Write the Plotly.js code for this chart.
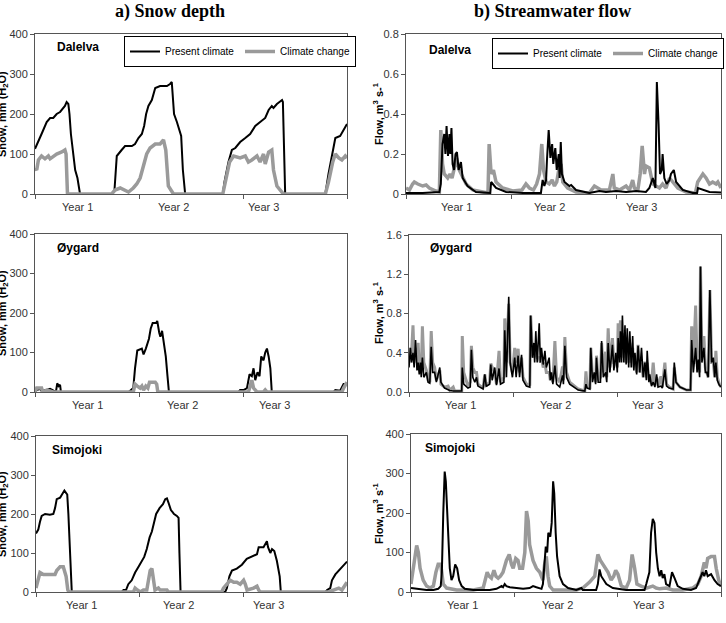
<!DOCTYPE html>
<html>
<head>
<meta charset="utf-8">
<script src="https://cdn.plot.ly/plotly-3.0.1.min.js"></script>
<style>
  html, body { margin: 0; padding: 0; background: #fff; }
  #chart { width: 726px; height: 623px; }
</style>
</head>
<body>
<div id="chart"></div>
<script>
// ---- Time axis: day of the 3-year simulation record ----
const yearTicks = [0, 365, 730, 1095];
const yearNames = ['Year 1', 'Year 2', 'Year 3'];

// ---- Dalelva: snow depth, mm (H2O) ----
const dalelvaSnowPresentDay = [0,12,23,41,53,64,76,88,100,105,111,117,121,126,141,149,158,269,279,287,304,316,340,351,363,375,383,390,398,410,422,439,463,474,480,484,488,498,509,513,519,527,659,665,679,691,703,720,738,755,773,790,808,820,831,837,849,867,870,878,1019,1030,1042,1054,1071,1083,1095];
const dalelvaSnowPresent = [113,135,150,180,190,190,200,205,215,220,230,225,200,150,60,40,0,0,10,95,110,120,120,125,140,150,170,200,220,235,265,270,270,275,280,240,200,180,150,145,60,0,0,30,80,110,115,130,140,150,170,180,190,210,220,215,225,235,230,0,0,50,100,140,145,160,175];
const dalelvaSnowChangeDay = [0,6,12,23,35,47,53,64,76,94,105,109,114,269,281,299,316,328,345,357,369,381,392,404,422,439,451,459,465,468,477,486,659,667,683,697,720,738,749,761,779,790,802,808,820,831,837,849,861,872,1019,1030,1045,1054,1066,1077,1089,1095];
const dalelvaSnowChange = [65,60,85,95,88,95,88,95,100,105,110,100,0,0,10,15,10,5,15,25,40,70,100,115,125,125,135,110,40,20,10,0,0,30,80,95,90,95,80,85,95,80,100,75,105,110,60,20,10,0,0,30,80,100,90,85,95,90];

// ---- Dalelva: streamwater flow, m3/s ----
const dalelvaFlowPresentDay = [0,58,116,121,127,133,137,141,146,151,154,158,162,167,172,177,183,191,197,214,243,278,293,296,313,348,406,469,475,481,487,490,496,502,508,512,519,524,531,534,538,542,551,568,574,591,637,672,695,730,765,800,834,846,858,867,872,878,883,889,892,898,906,916,921,931,939,962,997,1012,1015,1055,1095];
const dalelvaFlowPresent = [0.005,0.005,0.01,0.05,0.25,0.30,0.20,0.34,0.19,0.30,0.20,0.33,0.15,0.12,0.20,0.21,0.12,0.16,0.08,0.04,0.01,0.005,0.005,0.06,0.03,0.01,0.005,0.005,0.07,0.04,0.07,0.17,0.32,0.18,0.25,0.15,0.23,0.12,0.20,0.08,0.26,0.10,0.06,0.04,0.045,0.02,0.005,0.015,0.01,0.015,0.01,0.015,0.01,0.03,0.08,0.03,0.56,0.35,0.10,0.12,0.20,0.08,0.05,0.07,0.10,0.12,0.06,0.02,0.005,0.005,0.03,0.01,0.008];
const dalelvaFlowChangeDay = [0,12,23,29,41,58,70,81,104,116,121,127,133,145,153,160,168,176,185,192,209,232,267,285,289,296,304,313,336,371,403,417,429,443,454,464,472,478,487,498,508,516,524,531,539,545,562,591,637,655,678,707,719,724,742,765,777,788,794,806,814,821,829,834,846,858,869,881,892,904,916,927,945,974,1006,1014,1022,1032,1043,1055,1066,1078,1084,1095];
const dalelvaFlowChange = [0.03,0.02,0.05,0.06,0.05,0.04,0.045,0.03,0.015,0.01,0.32,0.15,0.10,0.08,0.10,0.08,0.13,0.18,0.12,0.10,0.05,0.02,0.01,0.005,0.25,0.10,0.12,0.06,0.03,0.015,0.02,0.05,0.03,0.02,0.05,0.10,0.25,0.12,0.06,0.05,0.07,0.04,0.06,0.12,0.15,0.06,0.03,0.01,0.005,0.04,0.02,0.02,0.10,0.03,0.02,0.04,0.02,0.07,0.03,0.02,0.10,0.24,0.10,0.14,0.13,0.05,0.04,0.03,0.05,0.03,0.08,0.06,0.03,0.01,0.005,0.06,0.08,0.10,0.08,0.05,0.06,0.05,0.06,0.03];

// ---- Øygard: snow depth ----
const oygardSnowPresentDay = [0,6,18,23,41,53,62,67,74,78,83,88,91,328,334,345,351,359,375,381,389,396,400,406,413,425,429,436,440,446,452,459,465,470,714,720,732,744,753,761,767,773,781,788,794,802,808,814,820,826,831,1048,1054,1071,1083,1095];
const oygardSnowPresent = [0,5,8,3,5,8,5,2,3,22,15,18,0,0,3,10,60,105,110,95,110,130,135,160,175,175,180,150,140,155,130,90,40,0,0,5,5,10,45,40,60,30,50,40,90,80,100,110,90,60,0,0,5,3,20,20];
const oygardSnowChangeDay = [0,6,23,27,41,53,64,345,351,359,369,375,381,389,396,402,422,427,431,749,753,761,767,779,802,808,814,1077,1083,1089,1095];
const oygardSnowChange = [0,10,10,0,5,3,0,0,20,15,10,15,5,15,10,25,25,20,0,0,10,30,10,0,0,5,0,0,10,20,25];

// ---- Øygard: streamwater flow (both runs on the same days) ----
const oygardFlowDay = [0,5,9,14,18,23,28,32,36,40,43,47,52,61,67,73,78,83,90,96,108,112,125,137,143,155,160,185,187,192,207,215,219,224,231,237,242,260,266,271,283,287,292,301,307,316,321,333,336,342,350,355,363,371,376,383,388,395,400,412,424,427,433,438,441,445,450,457,461,465,471,477,482,492,496,500,505,512,518,529,539,542,547,553,564,594,617,621,625,635,638,644,650,655,658,664,672,676,682,690,694,699,705,714,719,726,731,734,739,742,746,749,754,758,762,766,771,775,780,785,789,793,799,804,810,816,822,828,833,836,842,845,851,857,863,869,874,884,889,898,904,913,927,931,937,951,974,988,992,998,1006,1011,1015,1020,1023,1028,1035,1040,1045,1050,1056,1062,1068,1073,1077,1082,1089,1095];
const oygardFlowPresent = [0.25,0.45,0.3,0.4,0.25,0.53,0.22,0.3,0.18,0.3,0.15,0.35,0.15,0.2,0.1,0.09,0.46,0.2,0.2,0.1,0.25,0.1,0.04,0.02,0.015,0.01,0.01,0.01,0.25,0.08,0.04,0.05,0.43,0.15,0.1,0.15,0.06,0.03,0.18,0.06,0.08,0.28,0.12,0.25,0.07,0.24,0.08,0.1,0.63,0.15,0.97,0.3,0.15,0.35,0.15,0.37,0.15,0.38,0.12,0.06,0.05,0.78,0.35,0.5,0.3,0.62,0.3,0.7,0.3,0.45,0.28,0.42,0.25,0.35,0.12,0.2,0.08,0.27,0.08,0.05,0.17,0.08,0.47,0.15,0.08,0.02,0.01,0.08,0.04,0.03,0.45,0.1,0.2,0.08,0.35,0.1,0.1,0.52,0.15,0.2,0.1,0.5,0.2,0.48,0.22,0.4,0.2,0.55,0.3,0.62,0.3,0.78,0.3,0.68,0.28,0.65,0.25,0.62,0.25,0.57,0.22,0.4,0.18,0.47,0.2,0.45,0.15,0.3,0.12,0.42,0.1,0.18,0.06,0.1,0.05,0.18,0.05,0.06,0.04,0.23,0.06,0.04,0.03,0.3,0.1,0.05,0.02,0.02,0.53,0.2,0.45,0.2,0.33,0.15,1.28,0.3,0.45,0.2,0.2,0.15,1.04,0.3,0.35,0.15,0.3,0.12,0.07,0.05];
const oygardFlowChange = [0.3,0.45,0.4,0.68,0.35,0.45,0.3,0.5,0.25,0.3,0.2,0.67,0.3,0.22,0.12,0.1,0.62,0.3,0.25,0.12,0.22,0.08,0.05,0.06,0.02,0.05,0.01,0.01,0.57,0.2,0.06,0.1,0.47,0.25,0.2,0.2,0.08,0.04,0.18,0.06,0.1,0.29,0.25,0.2,0.08,0.42,0.1,0.15,0.75,0.3,0.9,0.3,0.2,0.45,0.3,0.44,0.2,0.35,0.15,0.08,0.08,0.78,0.4,0.35,0.45,0.45,0.35,0.35,0.3,0.35,0.25,0.3,0.2,0.2,0.12,0.17,0.1,0.52,0.15,0.1,0.26,0.12,0.56,0.2,0.1,0.03,0.01,0.21,0.06,0.05,0.45,0.15,0.18,0.1,0.37,0.12,0.15,0.5,0.2,0.41,0.15,0.65,0.25,0.55,0.3,0.3,0.25,0.7,0.4,0.73,0.4,0.6,0.35,0.5,0.3,0.45,0.3,0.5,0.3,0.45,0.25,0.3,0.2,0.48,0.2,0.3,0.15,0.31,0.15,0.3,0.12,0.15,0.08,0.3,0.08,0.15,0.06,0.16,0.05,0.3,0.08,0.05,0.03,0.25,0.1,0.05,0.02,0.02,0.67,0.3,0.88,0.3,0.3,0.2,1.28,0.35,0.57,0.25,0.2,0.15,1.04,0.3,0.3,0.15,0.42,0.15,0.08,0.05];

// ---- Simojoki: snow depth ----
const simojokiSnowPresentDay = [0,8,14,20,32,49,61,67,73,85,90,96,100,105,110,114,120,126,302,308,317,325,337,349,361,372,381,390,400,408,414,423,435,447,455,461,466,475,481,486,496,502,505,509,666,672,681,690,707,725,742,760,778,784,801,813,817,825,831,839,848,858,862,1019,1025,1036,1042,1054,1066,1077,1089,1095];
const simojokiSnowPresent = [150,160,180,195,200,198,200,215,238,242,248,255,260,255,250,200,100,0,0,5,5,20,30,50,65,80,90,110,140,155,175,200,215,225,238,240,230,210,205,200,195,190,100,0,0,10,40,55,60,70,85,90,97,115,115,130,115,100,110,105,80,40,0,0,5,10,30,45,55,65,75,78];
const simojokiSnowChangeDay = [0,8,14,26,55,67,73,85,96,100,106,112,116,343,349,357,367,378,390,396,402,408,414,419,431,437,461,466,654,660,672,684,696,707,719,731,737,743,766,778,784,790,1030,1048,1066,1077,1089,1095];
const simojokiSnowChange = [10,35,50,45,45,45,55,65,65,55,40,5,0,0,10,5,0,5,5,30,55,60,30,5,10,5,5,0,0,10,20,30,25,25,20,30,20,5,10,15,5,0,0,5,10,5,20,25];

// ---- Simojoki: streamwater flow, m3/s ----
const simojokiFlowPresentDay = [0,20,55,79,96,105,109,114,119,123,128,133,137,143,149,156,163,170,179,190,220,278,302,320,325,331,337,349,372,396,419,431,443,461,466,472,476,481,485,492,497,502,506,511,516,525,537,555,584,602,607,654,660,666,672,690,713,760,825,831,842,848,854,860,866,872,878,884,889,895,901,913,922,931,942,960,989,1007,1019,1030,1036,1042,1048,1060,1072,1083,1095];
const simojokiFlowPresent = [10,8,5,5,8,15,50,200,305,280,200,120,60,30,40,70,60,30,15,8,5,5,8,15,12,20,15,12,10,8,10,15,12,8,20,80,115,100,150,140,175,280,250,150,90,40,20,10,5,10,5,5,20,57,40,20,10,5,5,20,50,150,185,175,100,60,40,55,35,45,20,15,50,35,15,8,5,10,30,50,40,55,40,45,30,20,15];
const simojokiFlowChangeDay = [0,8,14,20,26,32,43,55,67,79,88,96,105,109,114,126,161,220,255,269,276,284,293,300,308,316,325,337,347,355,361,370,378,384,394,402,408,414,419,431,443,455,466,472,478,484,490,502,584,607,631,649,660,669,678,687,696,707,716,723,731,743,760,772,781,790,798,813,831,854,866,878,901,925,960,995,1013,1025,1036,1042,1048,1060,1072,1078,1087,1095];
const simojokiFlowChange = [20,60,100,118,100,60,30,15,10,15,50,70,70,45,20,10,5,5,10,50,40,35,55,40,35,40,50,80,95,70,60,85,80,60,60,100,205,180,120,80,60,50,30,70,90,40,15,5,5,10,25,40,95,80,70,60,50,30,40,55,45,15,10,30,95,60,20,15,10,15,10,8,10,5,5,10,20,40,75,60,85,90,90,60,30,15];

// ---- Styling ----
const BLACK = '#000000';
const GREY = '#9a9a9a';
const FONT = 'Liberation Sans, Arial, sans-serif';
const W = 726, H = 623;
const px = v => v / W;           // pixel -> paper x
const py = v => 1 - v / H;       // pixel -> paper y

// panel geometry (pixels): [left, right, top, bottom]
const panels = [
  { id: '',  box: [35, 347, 34, 194],  yrange: [0, 400], dtick: 100, fmt: '',    years: [150, 486, 803] },
  { id: '2', box: [406, 721, 34, 194], yrange: [0, 0.8], dtick: 0.2, fmt: '',    years: [175, 500, 818] },
  { id: '3', box: [35, 347, 234, 392], yrange: [0, 400], dtick: 100, fmt: '',    years: [183, 518, 840] },
  { id: '4', box: [409, 721, 235, 392], yrange: [0, 1.6], dtick: 0.4, fmt: '.1f', years: [179, 515, 836] },
  { id: '5', box: [36, 347, 436, 592], yrange: [0, 400], dtick: 100, fmt: '',    years: [161, 500, 818] },
  { id: '6', box: [411, 721, 434, 592], yrange: [0, 400], dtick: 100, fmt: '',    years: [183, 518, 840] }
];

function line(x, y, axisId, color, width, name, legend, show, rank) {
  return {
    type: 'scatter', mode: 'lines', x: x, y: y,
    xaxis: 'x' + axisId, yaxis: 'y' + axisId,
    line: { color: color, width: width, shape: 'linear' },
    name: name, legend: legend, showlegend: show, legendrank: rank,
    hoverinfo: 'skip'
  };
}

const P = 'Present climate', C = 'Climate change';
const traces = [
  // snow: present first, climate change on top
  line(dalelvaSnowPresentDay, dalelvaSnowPresent, '', BLACK, 2, P, 'legend', true, 1),
  line(dalelvaSnowChangeDay, dalelvaSnowChange, '', GREY, 3.5, C, 'legend', true, 2),
  line(oygardSnowPresentDay, oygardSnowPresent, '3', BLACK, 2, P, 'legend', false, 1),
  line(oygardSnowChangeDay, oygardSnowChange, '3', GREY, 3.5, C, 'legend', false, 2),
  line(simojokiSnowPresentDay, simojokiSnowPresent, '5', BLACK, 2, P, 'legend', false, 1),
  line(simojokiSnowChangeDay, simojokiSnowChange, '5', GREY, 3.5, C, 'legend', false, 2),
  // flow: climate change underneath, present on top
  line(dalelvaFlowChangeDay, dalelvaFlowChange, '2', GREY, 3.5, C, 'legend2', true, 2),
  line(dalelvaFlowPresentDay, dalelvaFlowPresent, '2', BLACK, 2, P, 'legend2', true, 1),
  line(oygardFlowDay, oygardFlowChange, '4', GREY, 3, C, 'legend2', false, 2),
  line(oygardFlowDay, oygardFlowPresent, '4', BLACK, 1.6, P, 'legend2', false, 1),
  line(simojokiFlowChangeDay, simojokiFlowChange, '6', GREY, 3.5, C, 'legend2', false, 2),
  line(simojokiFlowPresentDay, simojokiFlowPresent, '6', BLACK, 2, P, 'legend2', false, 1)
];

function legendBox(xPix, yPix) {
  return {
    x: px(xPix), y: py(yPix), xanchor: 'left', yanchor: 'top',
    orientation: 'h', bgcolor: '#fff', bordercolor: '#000', borderwidth: 1,
    font: { family: FONT, size: 10, color: '#000' },
    itemwidth: 30, entrywidth: 70, entrywidthmode: 'pixels',
    traceorder: 'normal', tracegroupgap: 0
  };
}

const layout = {
  width: W, height: H,
  margin: { l: 0, r: 0, t: 0, b: 0, autoexpand: false },
  paper_bgcolor: '#fff', plot_bgcolor: '#fff',
  font: { family: FONT, size: 11, color: '#333' },
  annotations: [],
  legend: legendBox(124, 36),
  legend2: legendBox(492, 38)
};

panels.forEach(p => {
  const [l, r, t, b] = p.box;
  layout['xaxis' + p.id] = {
    domain: [px(l), px(r)], range: [0, 1095], anchor: 'y' + p.id,
    tickvals: yearTicks, ticks: 'outside', ticklen: 4, tickcolor: '#555',
    showticklabels: false, showline: true, mirror: true, linecolor: '#555', linewidth: 1,
    showgrid: false, zeroline: false, fixedrange: true, automargin: false
  };
  layout['yaxis' + p.id] = {
    domain: [py(b), py(t)], range: p.yrange, anchor: 'x' + p.id,
    tick0: 0, dtick: p.dtick, tickformat: p.fmt, ticks: 'outside', ticklen: 4, tickcolor: '#555',
    tickfont: { family: FONT, size: 11, color: '#333' },
    showline: true, mirror: true, linecolor: '#555', linewidth: 1,
    showgrid: false, zeroline: false, fixedrange: true, automargin: false
  };
  // year labels sit between the yearly tick marks
  p.years.forEach((d, i) => {
    layout.annotations.push({
      x: d, xref: 'x' + p.id, y: py(b + 13), yref: 'paper',
      text: yearNames[i], showarrow: false, xanchor: 'center', yanchor: 'middle',
      font: { family: FONT, size: 11, color: '#333' }
    });
  });
});

// column headings
layout.annotations.push(
  { x: px(170), y: py(12), xref: 'paper', yref: 'paper', text: '<b>a) Snow depth</b>', showarrow: false,
    xanchor: 'center', yanchor: 'middle', font: { family: 'Liberation Serif, Times New Roman, serif', size: 18, color: '#000' } },
  { x: px(552), y: py(12), xref: 'paper', yref: 'paper', text: '<b>b) Streamwater flow</b>', showarrow: false,
    xanchor: 'center', yanchor: 'middle', font: { family: 'Liberation Serif, Times New Roman, serif', size: 18, color: '#000' } }
);

// catchment names inside each panel
[['Dalelva', 55, 47], ['Dalelva', 427, 50], ['Øygard', 55, 248], ['Øygard', 428, 248],
 ['Simojoki', 50, 450], ['Simojoki', 423, 448]].forEach(([txt, x, y]) => {
  layout.annotations.push({
    x: px(x), y: py(y), xref: 'paper', yref: 'paper', text: '<b>' + txt + '</b>', showarrow: false,
    xanchor: 'left', yanchor: 'middle', font: { family: FONT, size: 12, color: '#000' }
  });
});

// vertical axis titles
const snowTitle = '<b>Snow, mm (H<sub>2</sub>O)</b>';
[[3, 114, snowTitle], [3, 313, snowTitle], [3, 514, snowTitle],
 [378, 114, '<b>Flow, m<sup>3</sup> s-<sup>1</sup></b>'],
 [378, 313, '<b>Flow, m<sup>3</sup> s-<sup>1</sup></b>'],
 [378, 513, '<b>Flow, m<sup>3</sup> s<sup>-1</sup></b>']].forEach(([x, y, txt]) => {
  layout.annotations.push({
    x: px(x), y: py(y), xref: 'paper', yref: 'paper', text: txt, showarrow: false,
    textangle: -90, xanchor: 'center', yanchor: 'middle',
    font: { family: FONT, size: 11, color: '#000' }
  });
});

Plotly.newPlot('chart', traces, layout, { staticPlot: true, displayModeBar: false });
</script>
</body>
</html>
